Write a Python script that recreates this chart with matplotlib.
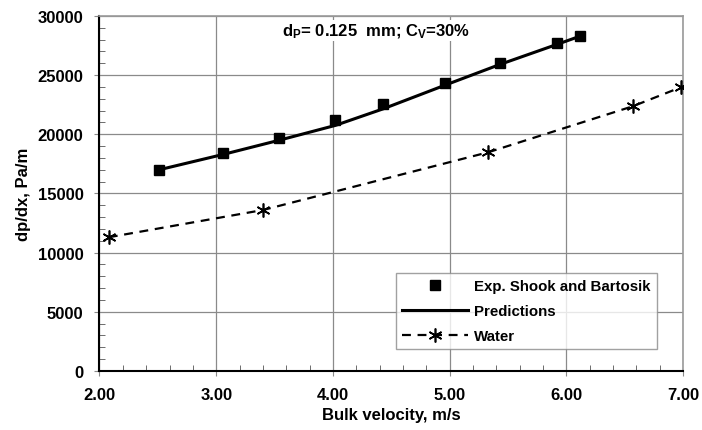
import matplotlib
matplotlib.use("Agg")
import matplotlib.pyplot as plt
from matplotlib.ticker import MultipleLocator, FormatStrFormatter

plt.rcParams['font.family'] = 'Liberation Sans'
plt.rcParams['font.weight'] = 'bold'
plt.rcParams['mathtext.fontset'] = 'custom'
plt.rcParams['mathtext.rm'] = 'Liberation Sans:bold'
plt.rcParams['mathtext.default'] = 'rm'

# experimental data (Shook and Bartosik)
exp_v = [2.51, 3.06, 3.54, 4.02, 4.43, 4.96, 5.43, 5.92, 6.12]
exp_dp = [17000, 18400, 19700, 21200, 22600, 24300, 26000, 27700, 28300]

# model predictions
pred_v = [2.51, 3.06, 3.54, 4.02, 4.43, 4.96, 5.43, 5.92, 6.12]
pred_dp = [17000, 18300, 19500, 20750, 22150, 24150, 25900, 27600, 28300]

# water only
water_v = [2.08, 3.40, 5.33, 6.57, 6.98]
water_dp = [11300, 13600, 18480, 22370, 23970]

fig = plt.figure(figsize=(7.02, 4.31), dpi=100)
ax = fig.add_axes([0.1417, 0.137, 0.8313, 0.8236])

ax.plot(exp_v, exp_dp, linestyle='none', marker='s', markersize=7,
        color='black', label='Exp. Shook and Bartosik', zorder=4)
ax.plot(pred_v, pred_dp, '-', color='black', lw=2.2, label='Predictions', zorder=3)
ax.plot(water_v, water_dp, color='black', lw=1.6, linestyle=(0, (4, 3)),
        marker=(6, 2, 0), markersize=10, markeredgewidth=1.2, label='Water', zorder=3)

ax.set_xlim(2, 7)
ax.set_ylim(0, 30000)
ax.xaxis.set_major_locator(MultipleLocator(1))
ax.xaxis.set_minor_locator(MultipleLocator(0.2))
ax.yaxis.set_major_locator(MultipleLocator(5000))
ax.yaxis.set_minor_locator(MultipleLocator(1000))
ax.xaxis.set_major_formatter(FormatStrFormatter('%.2f'))

ax.grid(which='major', color='#8a8a8a', lw=0.9)
ax.set_axisbelow(True)
ax.tick_params(which='major', direction='out', length=3.5, color='#8a8a8a',
               labelsize=12)
ax.tick_params(axis='y', which='major', pad=8)
ax.tick_params(axis='x', which='major', pad=8)
ax.tick_params(which='minor', direction='in', length=4, color='#555555')

for side in ['top', 'right']:
    ax.spines[side].set_color('#9a9a9a')
    ax.spines[side].set_linewidth(1.2)
for side in ['left', 'bottom']:
    ax.spines[side].set_color('black')
    ax.spines[side].set_linewidth(1.5)

ax.set_xlabel('Bulk velocity, m/s', fontsize=12, fontweight='bold', labelpad=4)
ax.set_ylabel('dp/dx, Pa/m', fontsize=12, fontweight='bold', labelpad=5)

ax.text(0.474, 0.958, r'd$_{P}$= 0.125  mm; C$_{V}$=30%', transform=ax.transAxes,
        ha='center', va='center', fontsize=12, fontweight='bold',
        bbox=dict(facecolor='white', edgecolor='none', pad=1))

leg = ax.legend(loc='lower right', bbox_to_anchor=(0.955, 0.062), borderaxespad=0,
                fontsize=10.8, frameon=True, fancybox=False, labelspacing=0.73,
                handlelength=4.4, handletextpad=0.45, borderpad=0.4)
leg.get_frame().set_edgecolor('#8a8a8a')
leg.get_frame().set_linewidth(1.0)

fig.savefig('out.png', dpi=100)
